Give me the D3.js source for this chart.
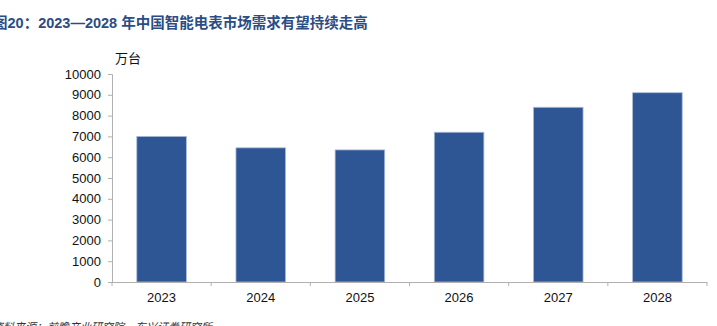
<!DOCTYPE html>
<html>
<head>
<meta charset="utf-8">
<script src="https://cdn.jsdelivr.net/npm/d3@7"></script>
<style>
  body { margin: 0; background: #fff; }
  svg { display: block; }
</style>
</head>
<body>
<div id="container"></div>
<script>
// data
const years = ['2023', '2024', '2025', '2026', '2027', '2028'];
const demand = [7000, 6450, 6350, 7200, 8400, 9100];   // 万台
const yTicks = [0, 1000, 2000, 3000, 4000, 5000, 6000, 7000, 8000, 9000, 10000];

const width = 717, height = 326;
const margin = { left: 112, right: 10, top: 74, bottom: 44 };

const svg = d3.select('#container')
    .append('svg')
    .attr('width', width)
    .attr('height', height)
    .style('font-family', '"Liberation Sans", Arial, "Noto Sans CJK SC", sans-serif');

const x = d3.scaleBand()
    .domain(years)
    .range([margin.left, 707])
    .paddingInner(0.5)
    .paddingOuter(0.25);

const y = d3.scaleLinear()
    .domain([0, 10000])
    .range([282, 74]);

// title (left part clipped by the page edge, like the source)
svg.append('text')
    .attr('x', -7)
    .attr('y', 28)
    .attr('fill', '#2b4c85')
    .attr('font-size', 14.5)
    .attr('font-weight', 'bold')
    .attr('font-family', '"Liberation Sans", Arial, "Noto Sans CJK SC", sans-serif')
    .text('图20：2023—2028 年中国智能电表市场需求有望持续走高');

// unit
svg.append('text')
    .attr('x', 115)
    .attr('y', 63)
    .attr('font-size', 13)
    .attr('fill', '#111')
    .text('万台');

// bars
svg.selectAll('rect.bar')
    .data(demand)
    .enter()
    .append('rect')
    .attr('class', 'bar')
    .attr('x', (d, i) => x(years[i]))
    .attr('y', d => y(d))
    .attr('width', x.bandwidth())
    .attr('height', d => y(0) - y(d))
    .attr('fill', '#2e5594')
    .attr('stroke', '#a9bbd9')
    .attr('stroke-width', 0.8);

// y axis
const yAxis = svg.append('g')
    .attr('transform', `translate(${margin.left},0)`)
    .call(d3.axisLeft(y).tickValues(yTicks).tickSize(4).tickPadding(7).tickFormat(d3.format('d')));

yAxis.select('.domain').attr('stroke', '#b0b0b0');
yAxis.selectAll('.tick line').attr('stroke', '#b0b0b0');
yAxis.selectAll('.tick text')
    .attr('font-size', 13)
    .attr('fill', '#111')
    .attr('font-family', '"Liberation Sans", Arial, sans-serif');

// x axis: line with ticks at category boundaries
const xAxis = svg.append('g');
xAxis.append('line')
    .attr('x1', margin.left).attr('x2', 707)
    .attr('y1', y(0) + 0.5).attr('y2', y(0) + 0.5)
    .attr('stroke', '#b0b0b0');

const step = x.step();
const bounds = years.map((d, i) => margin.left + i * step).concat([707]);
xAxis.selectAll('line.tk')
    .data(bounds)
    .enter()
    .append('line')
    .attr('class', 'tk')
    .attr('x1', d => d).attr('x2', d => d)
    .attr('y1', y(0)).attr('y2', y(0) + 4)
    .attr('stroke', '#b0b0b0');

xAxis.selectAll('text')
    .data(years)
    .enter()
    .append('text')
    .attr('x', d => x(d) + x.bandwidth() / 2)
    .attr('y', 302)
    .attr('text-anchor', 'middle')
    .attr('font-size', 13)
    .attr('fill', '#111')
    .text(d => d);

// source line (cut by the bottom edge in the original)
svg.append('text')
    .attr('x', -8)
    .attr('y', 331)
    .attr('font-size', 11)
    .attr('fill', '#333')
    .attr('font-style', 'italic')
    .text('资料来源：前瞻产业研究院，东兴证券研究所');
</script>
</body>
</html>
